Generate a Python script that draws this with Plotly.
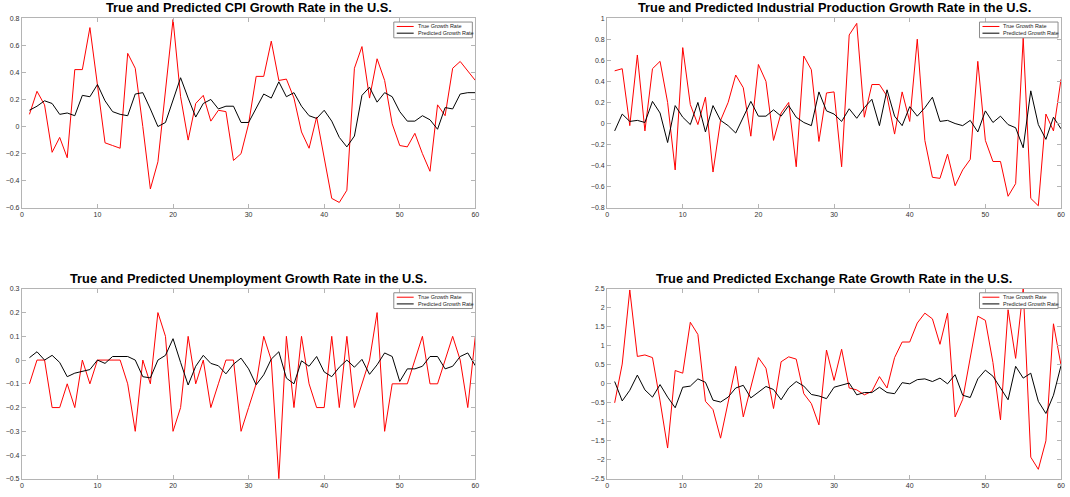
import plotly.graph_objects as go

x_vals = list(range(1, 61))

cpi_true = [0.09, 0.26, 0.16, -0.19, -0.08, -0.23, 0.42, 0.42, 0.73, 0.30,
            -0.12, -0.14, -0.16, 0.54, 0.43, 0.00, -0.46, -0.26, 0.27, 0.79,
            0.22, -0.10, 0.17, 0.23, 0.04, 0.12, 0.11, -0.25, -0.20, 0.02,
            0.37, 0.37, 0.63, 0.34, 0.35, 0.21, -0.04, -0.16, 0.07, -0.23,
            -0.53, -0.56, -0.47, 0.43, 0.59, 0.21, 0.50, 0.34, 0.02, -0.14,
            -0.15, -0.05, -0.20, -0.33, 0.16, 0.08, 0.43, 0.48, 0.41, 0.34]
cpi_pred = [0.12, 0.15, 0.19, 0.17, 0.09, 0.10, 0.08, 0.23, 0.22, 0.31,
            0.19, 0.11, 0.09, 0.08, 0.24, 0.25, 0.13, 0.00, 0.03, 0.20,
            0.36, 0.21, 0.07, 0.17, 0.20, 0.13, 0.15, 0.15, 0.03, 0.03,
            0.14, 0.24, 0.21, 0.33, 0.22, 0.25, 0.15, 0.08, 0.06, 0.12,
            0.04, -0.08, -0.15, -0.07, 0.23, 0.29, 0.18, 0.25, 0.22, 0.11,
            0.04, 0.04, 0.08, 0.05, -0.02, 0.14, 0.13, 0.24, 0.25, 0.25]

ip_true = [0.50, 0.52, -0.02, 0.65, -0.07, 0.52, 0.59, 0.20, -0.44, 0.72,
           0.18, -0.01, 0.25, -0.46, 0.03, 0.20, 0.46, 0.34, -0.12, 0.56,
           0.40, -0.16, 0.10, 0.20, -0.41, 0.64, 0.51, -0.17, 0.29, 0.30,
           -0.41, 0.84, 0.95, 0.06, 0.37, 0.37, 0.26, -0.10, 0.30, 0.02,
           0.80, -0.16, -0.51, -0.52, -0.29, -0.59, -0.44, -0.34, 0.59, -0.16,
           -0.36, -0.36, -0.69, -0.57, 0.81, -0.71, -0.78, 0.09, -0.07, 0.42]
ip_pred = [-0.07, 0.09, 0.02, 0.03, 0.01, 0.21, 0.10, -0.18, 0.17, 0.06,
           -0.01, 0.20, -0.08, 0.17, 0.03, -0.02, -0.09, 0.06, 0.21, 0.07,
           0.07, 0.13, 0.07, 0.17, 0.06, 0.01, -0.02, 0.30, 0.12, 0.09,
           0.02, 0.14, 0.05, 0.15, 0.23, -0.02, 0.32, 0.07, -0.02, 0.16,
           0.07, 0.15, 0.25, 0.02, 0.03, 0.00, -0.02, 0.03, -0.08, 0.12,
           0.01, 0.07, -0.01, -0.04, -0.23, 0.31, -0.01, -0.15, 0.06, -0.05]

unemp_true = [-0.1, 0.0, 0.0, -0.2, -0.2, -0.1, -0.2, 0.0, -0.1, 0.0,
              0.0, 0.0, 0.0, -0.1, -0.3, 0.0, -0.1, 0.2, 0.1, -0.3,
              -0.2, 0.1, -0.1, 0.0, -0.2, -0.1, 0.0, 0.0, -0.3, -0.2,
              -0.1, 0.1, 0.0, -0.5, 0.1, -0.2, 0.1, -0.1, -0.2, -0.2,
              0.1, -0.2, 0.1, -0.2, -0.1, 0.0, 0.2, -0.3, -0.1, -0.1,
              -0.1, 0.0, 0.1, -0.1, -0.1, 0.0, 0.1, 0.0, -0.2, 0.1]
unemp_pred = [0.01, 0.035, 0.0, 0.02, -0.01, -0.07, -0.055, -0.047, -0.04, 0.0,
              -0.014, 0.015, 0.015, 0.015, 0.0, -0.07, -0.075, 0.0, 0.02, 0.09,
              -0.01, -0.105, -0.026, 0.02, -0.014, -0.024, -0.058, -0.017, 0.008, -0.037,
              -0.104, -0.062, 0.004, 0.035, -0.076, -0.1, -0.003, -0.026, 0.015, -0.05,
              -0.07, -0.03, 0.0, -0.03, 0.003, -0.06, -0.02, 0.03, 0.015, -0.09,
              -0.037, -0.037, -0.026, 0.015, 0.015, -0.037, -0.026, 0.015, 0.03, -0.024]

fx_true = [-0.50, 0.52, 2.47, 0.72, 0.76, 0.69, -0.45, -1.69, 0.35, 0.28,
           1.62, 1.30, -0.46, -0.68, -1.43, -0.45, 0.46, -0.87, -0.10, 0.69,
           0.41, -0.65, 0.58, 0.71, 0.65, -0.26, -0.52, -1.08, 0.89, 0.09,
           0.91, -0.11, -0.16, -0.29, -0.20, 0.19, -0.11, 0.69, 1.10, 1.10,
           1.60, 1.86, 1.71, 1.04, 1.86, -0.87, -0.41, 0.74, 1.78, 1.67,
           0.56, -0.95, 1.95, 0.67, 2.50, -1.93, -2.25, -1.50, 1.58, 0.49]
fx_pred = [0.06, -0.45, -0.17, 0.23, -0.16, -0.35, -0.02, -0.35, -0.63, -0.09,
           -0.06, 0.13, 0.04, -0.43, -0.48, -0.35, -0.11, -0.04, -0.37, -0.22,
           -0.07, -0.15, -0.42, -0.11, 0.06, -0.06, -0.28, -0.32, -0.39, -0.09,
           -0.03, 0.02, -0.29, -0.23, -0.23, -0.09, -0.23, -0.26, 0.03, 0.00,
           0.11, 0.13, 0.06, 0.15, 0.00, 0.24, -0.30, -0.36, 0.13, 0.36,
           0.20, -0.11, -0.42, 0.46, 0.15, 0.28, -0.46, -0.78, -0.30, 0.48]

titles = ["True and Predicted CPI Growth Rate in the U.S.",
          "True and Predicted Industrial Production Growth Rate in the U.S.",
          "True and Predicted Unemployment Growth Rate in the U.S.",
          "True and Predicted Exchange Rate Growth Rate in the U.S."]
legend_names = ["True Growth Rate", "Predicted Growth Rate"]
line_colors = ["#ff0000", "#000000"]
series = [(cpi_true, cpi_pred), (ip_true, ip_pred),
          (unemp_true, unemp_pred), (fx_true, fx_pred)]
y_ranges = [[-0.6, 0.8], [-0.8, 1.0], [-0.5, 0.3], [-2.5, 2.5]]
y_dticks = [0.2, 0.2, 0.1, 0.5]
x_ticks = [0, 10, 20, 30, 40, 50, 60]

W, H = 1070, 497
# axes boxes in pixels: (left, right), (top, bottom)
xpx = [(20, 476), (608.5, 1065)]
ypx = [(14.3, 206.8), (288.9, 481.6)]


def px(xv):
    return xv / W


def py(yv):
    return 1 - yv / H


fig = go.Figure()
font_fam = "Liberation Sans, Arial, Helvetica, sans-serif"
layout = dict(
    width=W, height=H,
    margin=dict(l=0, r=0, t=0, b=0),
    paper_bgcolor="white", plot_bgcolor="white",
    font=dict(family=font_fam, color="#333"),
    showlegend=False,
    annotations=[], shapes=[],
)

for k in range(4):
    r, c = divmod(k, 2)
    idx = k + 1
    xa = "x" if idx == 1 else f"x{idx}"
    ya = "y" if idx == 1 else f"y{idx}"
    (l, rr), (t, b) = xpx[c], ypx[r]
    for s, vals in enumerate(series[k]):
        fig.add_trace(go.Scatter(x=x_vals, y=vals, mode="lines", name=legend_names[s],
                                 line=dict(color=line_colors[s], width=1),
                                 xaxis=xa, yaxis=ya))
    axcommon = dict(showline=True, linecolor="#b4b4b4", linewidth=1, mirror="ticks",
                    ticks="inside", ticklen=4, tickcolor="#b4b4b4", showgrid=False,
                    zeroline=False, tickfont=dict(size=7, color="#333", family=font_fam))
    layout["xaxis" if idx == 1 else f"xaxis{idx}"] = dict(
        domain=[px(l), px(rr)], range=[0, 60], tickvals=x_ticks, anchor=ya, **axcommon)
    layout["yaxis" if idx == 1 else f"yaxis{idx}"] = dict(
        domain=[py(b), py(t)], range=y_ranges[k], dtick=y_dticks[k], tick0=0,
        anchor=xa, **axcommon)

    # legend box (drawn by hand to match the compact MATLAB legend)
    bl, br = rr - 82, rr - 3
    bt, bb = t + 4, t + 20
    layout["shapes"].append(dict(type="rect", xref="paper", yref="paper",
                                 x0=px(bl), x1=px(br), y0=py(bb), y1=py(bt),
                                 line=dict(color="#8c8c8c", width=1), fillcolor="white",
                                 layer="above"))
    for s in range(2):
        yy = bt + 4.5 + s * 6.8
        layout["shapes"].append(dict(type="line", xref="paper", yref="paper",
                                     x0=px(bl + 3), x1=px(bl + 20), y0=py(yy), y1=py(yy),
                                     line=dict(color=line_colors[s], width=1), layer="above"))
        layout["annotations"].append(dict(
            text=legend_names[s], xref="paper", yref="paper",
            x=px(bl + 22), y=py(yy), xanchor="left", yanchor="middle", showarrow=False,
            font=dict(size=5.5, color="#222", family=font_fam)))

    layout["annotations"].append(dict(
        text=f"<b>{titles[k]}</b>", xref="paper", yref="paper",
        x=px((l + rr) / 2), y=py(t - 1),
        xanchor="center", yanchor="bottom", showarrow=False,
        font=dict(size=12.8, color="#000", family=font_fam)))

fig.update_layout(**layout)
fig.write_html("out.html", config={"displayModeBar": False},
               post_script="document.body.style.margin='0';document.body.style.overflow='hidden';")
